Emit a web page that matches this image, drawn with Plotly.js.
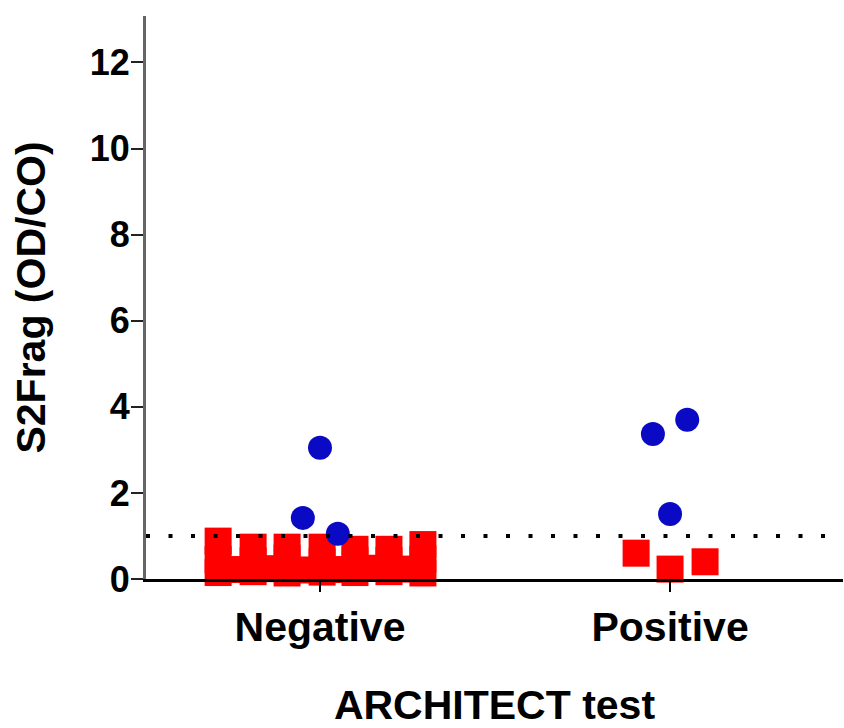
<!DOCTYPE html>
<html>
<head>
<meta charset="utf-8">
<script src="https://cdn.plot.ly/plotly-3.0.1.min.js"></script>
<style>
  html, body { margin: 0; padding: 0; background: #ffffff; }
  #chart { width: 844px; height: 728px; }
</style>
</head>
<body>
<div id="chart"></div>
<script>
// ---- Data ----
const categories = ["Negative", "Positive"];
const categoryPositions = [1, 2];

// Negative group: red squares (values) and their horizontal swarm offsets
const negRedValues = [
  0.88, 0.74, 0.74, 0.74, 0.69, 0.69, 0.80,
  0.45, 0.42, 0.48, 0.40, 0.44, 0.43, 0.46,
  0.22, 0.24, 0.21, 0.22, 0.25, 0.23,
  0.15, 0.17, 0.14, 0.16, 0.15, 0.17, 0.14
];
const negRedJitter = [
  -0.291, -0.191, -0.094, 0.006, 0.100, 0.197, 0.294,
  -0.291, -0.191, -0.094, 0.006, 0.100, 0.197, 0.294,
  -0.241, -0.143, -0.044, 0.053, 0.149, 0.246,
  -0.291, -0.191, -0.094, 0.006, 0.100, 0.197, 0.294
];
// Negative group: blue circles
const negBlueValues = [3.05, 1.42, 1.05];
const negBlueJitter = [0.0, -0.049, 0.051];

// Positive group: red squares
const posRedValues = [0.60, 0.23, 0.40];
const posRedJitter = [-0.097, 0.0, 0.100];
// Positive group: blue circles
const posBlueValues = [3.37, 3.70, 1.51];
const posBlueJitter = [-0.049, 0.049, 0.0];

const cutoff = 1.0;
const yTicks = [0, 2, 4, 6, 8, 10, 12];

// ---- Build traces ----
function place(center, jitter) { return jitter.map(j => center + j); }

const RED = "#ff0000";
const BLUE = "#0a0ac4";

const redX = place(categoryPositions[0], negRedJitter).concat(place(categoryPositions[1], posRedJitter));
const redY = negRedValues.concat(posRedValues);
const blueX = place(categoryPositions[0], negBlueJitter).concat(place(categoryPositions[1], posBlueJitter));
const blueY = negBlueValues.concat(posBlueValues);

const traces = [
  {
    type: "scatter", mode: "markers", x: redX, y: redY, cliponaxis: false,
    marker: { symbol: "square", size: 27, color: RED, line: { width: 0 } },
    hoverinfo: "y", showlegend: false
  },
  {
    type: "scatter", mode: "markers", x: blueX, y: blueY, cliponaxis: false,
    marker: { symbol: "circle", size: 24, color: BLUE, line: { width: 0 } },
    hoverinfo: "y", showlegend: false
  }
];

const FONT = "Liberation Sans, Arial, sans-serif";

const layout = {
  width: 844, height: 728,
  margin: { l: 146, r: 1, t: 16, b: 149 },
  paper_bgcolor: "#ffffff", plot_bgcolor: "#ffffff",
  showlegend: false,
  font: { family: FONT, color: "#000000" },
  xaxis: {
    range: [0.503, 2.494],
    tickvals: categoryPositions, ticktext: categories,
    ticks: "outside", ticklen: 10, tickwidth: 2, tickcolor: "#000000",
    showline: true, linecolor: "#000000", linewidth: 3,
    showgrid: false, zeroline: false,
    tickfont: { family: FONT, size: 41, weight: "bold", color: "#000000" },
    title: { text: "ARCHITECT test", font: { family: FONT, size: 41, weight: "bold", color: "#000000" }, standoff: 42 },
    fixedrange: true
  },
  yaxis: {
    range: [0, 13.08],
    tickvals: yTicks, ticktext: yTicks.map(String),
    ticks: "outside", ticklen: 12, tickwidth: 2, tickcolor: "#222222",
    ticklabelstandoff: -6,
    showline: true, linecolor: "#666666", linewidth: 3,
    showgrid: false, zeroline: false,
    tickfont: { family: FONT, size: 36, weight: "bold", color: "#000000" },
    title: { text: "S2Frag (OD/CO)", font: { family: FONT, size: 41, weight: "bold", color: "#000000" }, standoff: 32 },
    fixedrange: true
  },
  shapes: [
    {
      type: "line", xref: "paper", yref: "y",
      x0: 0, x1: 0.976, y0: cutoff, y1: cutoff,
      line: { color: "#000000", width: 4, dash: "4px,18.5px" },
      layer: "above"
    }
  ]
};

Plotly.newPlot("chart", traces, layout, { displayModeBar: false, staticPlot: true });
</script>
</body>
</html>
